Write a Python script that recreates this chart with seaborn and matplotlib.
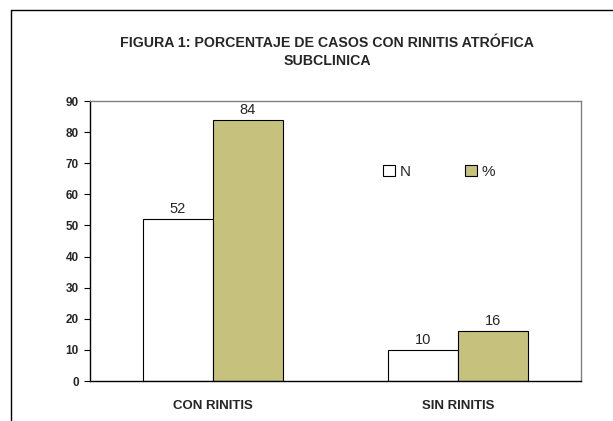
import matplotlib
matplotlib.use("Agg")
import matplotlib.pyplot as plt
import seaborn as sns
import pandas as pd
from matplotlib.lines import Line2D

categories = ["CON RINITIS", "SIN RINITIS"]
series_names = ["N", "%"]
values_n = [52, 10]
values_pct = [84, 16]
y_ticks = [0, 10, 20, 30, 40, 50, 60, 70, 80, 90]
title = "FIGURA 1: PORCENTAJE DE CASOS CON RINITIS ATRÓFICA\nSUBCLINICA"

df = pd.DataFrame({
    "cat": categories * 2,
    "serie": [series_names[0]] * len(categories) + [series_names[1]] * len(categories),
    "value": values_n + values_pct,
})

sns.set_style("white")
plt.rcParams["font.family"] = ["Liberation Sans", "DejaVu Sans"]

fig = plt.figure(figsize=(6.13, 4.21), dpi=100)
ax = fig.add_axes([90 / 613, 40 / 421, 491 / 613, 280 / 421])

sns.barplot(data=df, x="cat", y="value", hue="serie", order=categories,
            hue_order=series_names, palette=["white", "#c6c27e"], saturation=1,
            edgecolor="black", linewidth=0.8, width=0.57, ax=ax)

for cont in ax.containers:
    ax.bar_label(cont, fontsize=10.5, padding=2)

ax.set_xlim(-0.5, 1.5)
ax.set_ylim(0, 90)
ax.set_yticks(y_ticks)
ax.set_yticklabels([str(t) for t in y_ticks], fontsize=8.5, fontweight="bold")
ax.set_xticks(range(len(categories)))
ax.set_xticklabels(categories, fontsize=9.5, fontweight="bold")
ax.tick_params(axis="x", which="major", length=0, pad=14)
ax.set_xticks([-0.5, 0.5, 1.5], minor=True)
ax.tick_params(axis="x", which="minor", length=4, width=0.8, direction="out", color="black")
ax.tick_params(axis="y", length=4, width=0.8, direction="out", left=True, color="black", pad=4)
ax.set_xlabel("")
ax.set_ylabel("")

for side in ["left", "bottom"]:
    ax.spines[side].set_color("black")
    ax.spines[side].set_linewidth(1.0)
for side in ["top", "right"]:
    ax.spines[side].set_color("#808080")
    ax.spines[side].set_linewidth(1.0)

leg = ax.legend(loc="center left", bbox_to_anchor=(0.585, 0.746), ncol=2, frameon=False,
                fontsize=11, handlelength=0.75, handleheight=0.75, handletextpad=0.3,
                columnspacing=3.6, borderaxespad=0)

fig.text(327 / 613, 1 - 52 / 421, title, ha="center", va="center",
         fontsize=10.2, fontweight="bold", linespacing=1.3)

fig.add_artist(Line2D([11 / 613, 11 / 613], [0, 1 - 10 / 421], color="black", lw=1.0,
                      transform=fig.transFigure))
fig.add_artist(Line2D([11 / 613, 1], [1 - 10 / 421, 1 - 10 / 421], color="black", lw=1.0,
                      transform=fig.transFigure))

fig.savefig("out.png", dpi=100)
